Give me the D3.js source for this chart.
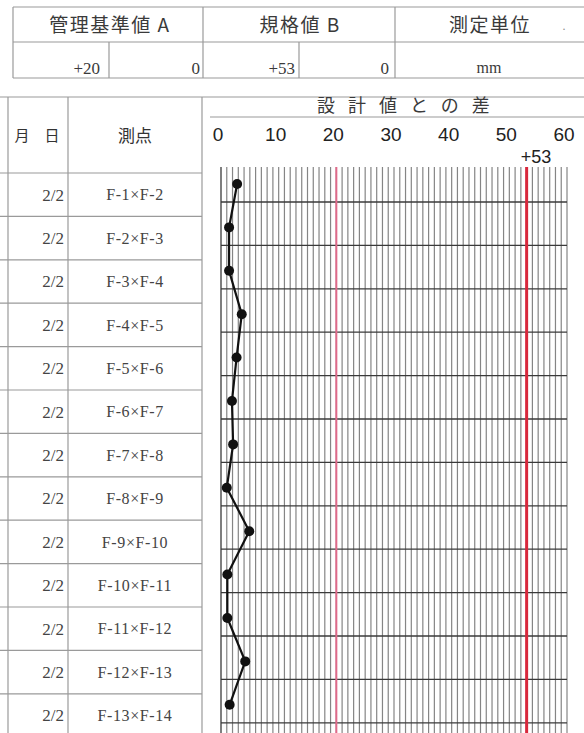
<!DOCTYPE html>
<html><head><meta charset="utf-8">
<script src="https://cdn.jsdelivr.net/npm/d3@7"></script>
<style>html,body{margin:0;padding:0;background:#fff;overflow:hidden}</style>
</head><body>
<script>
// ---- data ----
const dates = ["2/2","2/2","2/2","2/2","2/2","2/2","2/2","2/2","2/2","2/2","2/2","2/2","2/2"];
const points = ["F-1×F-2","F-2×F-3","F-3×F-4","F-4×F-5","F-5×F-6","F-6×F-7","F-7×F-8","F-8×F-9","F-9×F-10","F-10×F-11","F-11×F-12","F-12×F-13","F-13×F-14"];
const values = [2.8,1.4,1.4,3.6,2.7,1.9,2.1,1.0,4.9,1.1,1.1,4.2,1.5];
const xTicks = [0,10,20,30,40,50,60];
const controlA = ["+20","0"];
const specB = ["+53","0"];
const unitLabel = "mm";
const limitA = 20, limitB = 53;

const W = 584, H = 733;
const svg = d3.select("body").append("svg").attr("width", W).attr("height", H)
  .style("font-family", "'Liberation Serif', 'DejaVu Serif', serif");

const gridCol = "#9a9a9a";
const jp = "'Noto Sans CJK JP', sans-serif";
const sans = "'Liberation Sans', Arial, sans-serif";

// ---- top table ----
const tt = svg.append("g");
const tTop = 7, tMid = 42, tBot = 78;
[tTop, tMid, tBot].forEach(y => tt.append("line").attr("x1", 13).attr("x2", W + 2).attr("y1", y).attr("y2", y)
  .attr("stroke", gridCol).attr("stroke-width", 1.2));
[13, 203, 395].forEach(x => tt.append("line").attr("x1", x).attr("x2", x).attr("y1", tTop).attr("y2", tBot)
  .attr("stroke", gridCol).attr("stroke-width", 1.2));
[109, 299].forEach(x => tt.append("line").attr("x1", x).attr("x2", x).attr("y1", tMid).attr("y2", tBot)
  .attr("stroke", gridCol).attr("stroke-width", 1.2));
const headTxt = [["管理基準値 A", 110], ["規格値 B", 300], ["測定単位", 490]];
headTxt.forEach(([t, x]) => tt.append("text").attr("x", x).attr("y", 25).attr("dy", "0.36em")
  .attr("text-anchor", "middle").attr("font-family", jp).attr("font-size", 19).attr("letter-spacing", 1.5)
  .attr("fill", "#3a3a3a").text(t));
tt.append("text").attr("x", 564).attr("y", 30).attr("text-anchor", "middle").attr("font-size", 12).attr("fill", "#888").text(".");
[[controlA[0], 100], [controlA[1], 200], [specB[0], 295], [specB[1], 389]].forEach(([t, x]) =>
  tt.append("text").attr("x", x).attr("y", 68).attr("dy", "0.35em").attr("text-anchor", "end")
    .attr("font-size", 17).attr("fill", "#3a3a3a").text(t));
tt.append("text").attr("x", 489).attr("y", 67).attr("dy", "0.35em").attr("text-anchor", "middle")
  .attr("font-size", 16).attr("fill", "#3a3a3a").text(unitLabel);

// ---- lower left table ----
const rowY = d3.scaleBand().domain(d3.range(points.length)).range([173, 173 + 43.4 * points.length]);
const lt = svg.append("g");
lt.append("line").attr("x1", 0).attr("x2", W).attr("y1", 97).attr("y2", 97).attr("stroke", gridCol).attr("stroke-width", 1.2);
[8, 68, 202].forEach(x => lt.append("line").attr("x1", x).attr("x2", x).attr("y1", 97).attr("y2", H)
  .attr("stroke", gridCol).attr("stroke-width", 1.2));
lt.append("line").attr("x1", 0).attr("x2", 202).attr("y1", 173).attr("y2", 173).attr("stroke", gridCol).attr("stroke-width", 1.2);
points.forEach((p, i) => {
  lt.append("line").attr("x1", 0).attr("x2", 202).attr("y1", rowY(i) + rowY.bandwidth()).attr("y2", rowY(i) + rowY.bandwidth())
    .attr("stroke", gridCol).attr("stroke-width", 1.2);
  const cy = rowY(i) + rowY.bandwidth() / 2;
  lt.append("text").attr("x", 64).attr("y", cy).attr("dy", "0.35em").attr("text-anchor", "end")
    .attr("font-size", 17).attr("fill", "#444").text(dates[i]);
  lt.append("text").attr("x", 135).attr("y", cy).attr("dy", "0.35em").attr("text-anchor", "middle")
    .attr("font-size", 16).attr("letter-spacing", 0.6).attr("fill", "#444").text(p);
});
lt.append("text").attr("x", 37).attr("y", 136).attr("dy", "0.36em").attr("text-anchor", "middle")
  .attr("font-family", jp).attr("font-size", 15).attr("fill", "#333").text("月　日");
lt.append("text").attr("x", 135).attr("y", 136).attr("dy", "0.36em").attr("text-anchor", "middle")
  .attr("font-family", jp).attr("font-size", 17).attr("fill", "#333").text("測点");

// ---- chart ----
const x = d3.scaleLinear().domain([0, 60]).range([221, 567]);
const yC = d3.scaleBand().domain(d3.range(points.length)).range([158.6, 158.6 + 43.4 * points.length]);
const gridTop = 167;

svg.append("line").attr("x1", 210).attr("x2", W).attr("y1", 117).attr("y2", 117).attr("stroke", gridCol).attr("stroke-width", 1.2);
svg.append("text").attr("x", 317).attr("y", 106).attr("dy", "0.36em").attr("font-family", jp)
  .attr("font-size", 18).attr("letter-spacing", 13).attr("fill", "#3a3a3a").text("設計値との差");

// tick labels
svg.append("g").selectAll("text").data(xTicks).join("text")
  .attr("x", d => x(d) - 3).attr("y", 134).attr("dy", "0.36em").attr("text-anchor", "middle")
  .attr("font-family", sans).attr("font-size", 19).attr("fill", "#222")
  .text(d => d);

const g = svg.append("g");
// vertical grid every 1 unit
g.selectAll("line.v").data(d3.range(0, 61)).join("line").attr("class", "v")
  .attr("x1", d => x(d)).attr("x2", d => x(d)).attr("y1", gridTop).attr("y2", H)
  .attr("stroke", d => d === 0 ? "#555" : "#858585").attr("stroke-width", d => d === 0 ? 1.5 : 1.2);
// horizontal lines
g.selectAll("line.h").data(d3.range(points.length)).join("line").attr("class", "h")
  .attr("x1", x(0)).attr("x2", x(60)).attr("y1", d => yC(d) + yC.bandwidth()).attr("y2", d => yC(d) + yC.bandwidth())
  .attr("stroke", "#3a3a3a").attr("stroke-width", 1.3);
// limit lines
g.append("line").attr("x1", x(limitA)).attr("x2", x(limitA)).attr("y1", gridTop).attr("y2", H)
  .attr("stroke", "#e06a8a").attr("stroke-width", 2);
g.append("line").attr("x1", x(limitB)).attr("x2", x(limitB)).attr("y1", gridTop).attr("y2", H)
  .attr("stroke", "#d8283c").attr("stroke-width", 3);
svg.append("text").attr("x", x(limitB) - 6).attr("y", 157).attr("dy", "0.36em")
  .attr("font-family", sans).attr("font-size", 18).attr("fill", "#222").text(specB[0]);

// data line & points
const py = i => yC(i) + yC.bandwidth() * 0.585;
const line = d3.line().x(d => x(d)).y((d, i) => py(i));
g.append("path").datum(values).attr("d", line).attr("fill", "none").attr("stroke", "#111").attr("stroke-width", 2.2);
g.selectAll("circle").data(values).join("circle")
  .attr("cx", d => x(d)).attr("cy", (d, i) => py(i)).attr("r", 5).attr("fill", "#111");
</script>
</body></html>
